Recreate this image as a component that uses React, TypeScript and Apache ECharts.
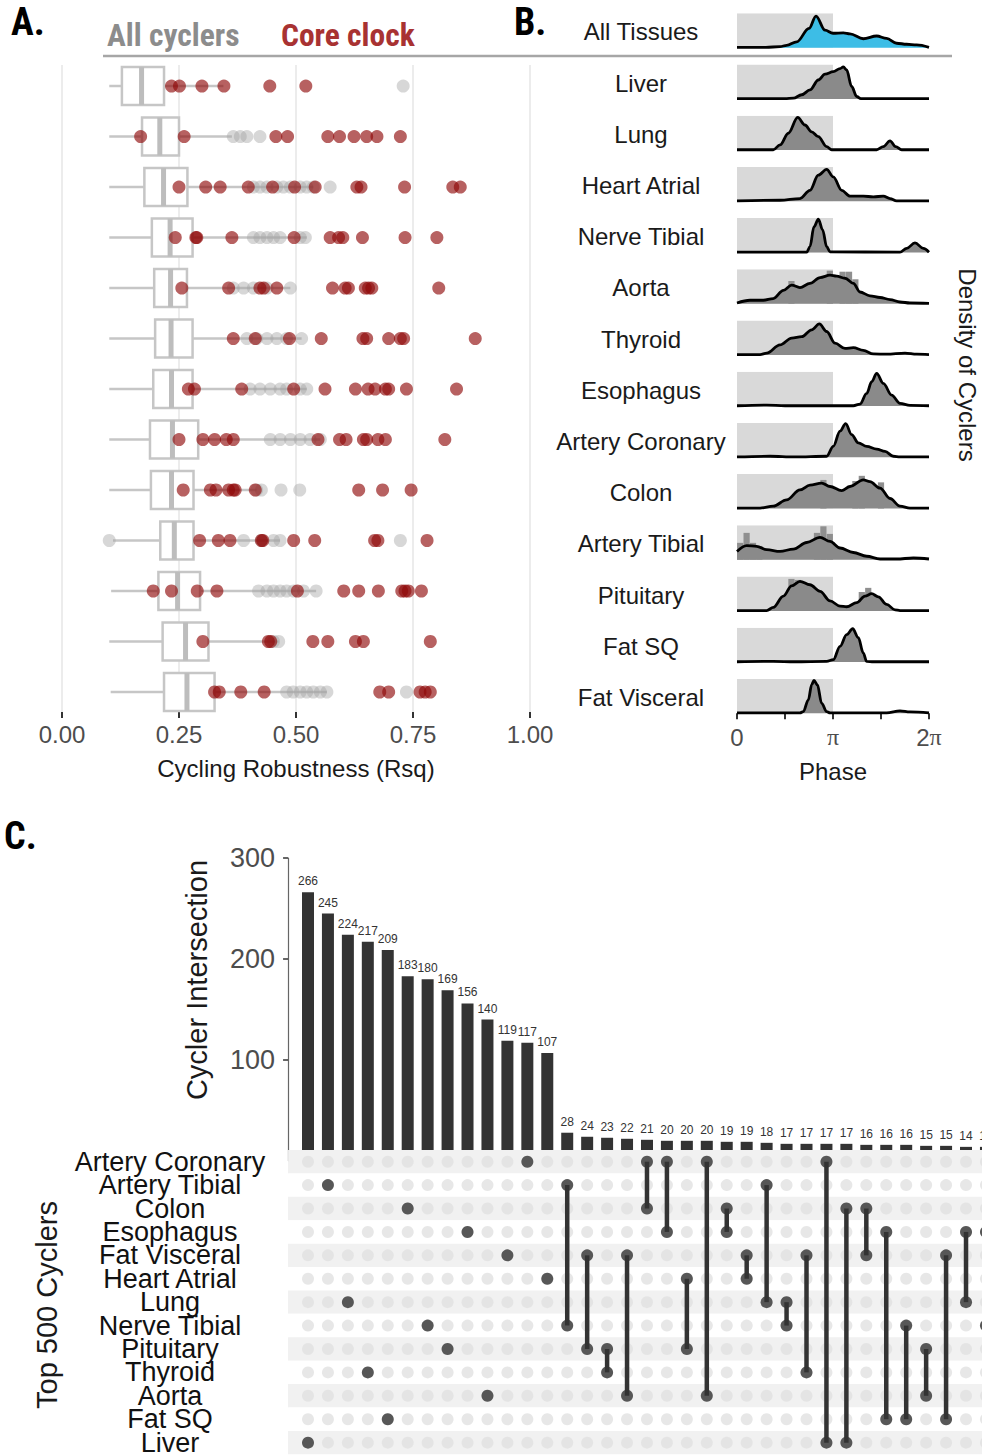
import React, { useEffect, useRef } from 'react';
import * as echarts from 'echarts';

// ---------------- Panel A data ----------------
const rsqTicks = [0, 0.25, 0.5, 0.75, 1];
// [lower whisker, Q1, median, Q3, upper whisker] per row (top to bottom)
const boxStats = [
  [0.101, 0.128, 0.170, 0.218, 0.345],
  [0.101, 0.171, 0.209, 0.250, 0.363],
  [0.101, 0.176, 0.217, 0.268, 0.537],
  [0.101, 0.192, 0.231, 0.279, 0.523],
  [0.101, 0.197, 0.232, 0.267, 0.488],
  [0.101, 0.199, 0.233, 0.279, 0.512],
  [0.101, 0.195, 0.234, 0.279, 0.523],
  [0.101, 0.188, 0.236, 0.291, 0.552],
  [0.101, 0.190, 0.234, 0.281, 0.416],
  [0.109, 0.210, 0.240, 0.281, 0.466],
  [0.105, 0.206, 0.247, 0.295, 0.543],
  [0.101, 0.215, 0.264, 0.313, 0.463],
  [0.104, 0.218, 0.267, 0.326, 0.566],
];
const greyPoints = [
  [0.729],
  [0.366, 0.381, 0.395, 0.423],
  [0.409, 0.423, 0.438, 0.459, 0.473, 0.488, 0.509, 0.523, 0.537, 0.573],
  [0.409, 0.423, 0.438, 0.452, 0.466, 0.509, 0.520],
  [0.366, 0.388, 0.409, 0.438, 0.488],
  [0.395, 0.416, 0.438, 0.459, 0.480, 0.512],
  [0.402, 0.423, 0.445, 0.466, 0.480, 0.509, 0.523],
  [0.445, 0.466, 0.488, 0.509, 0.530, 0.552],
  [0.416, 0.426, 0.468, 0.508],
  [0.101, 0.388, 0.426, 0.452, 0.466, 0.723],
  [0.420, 0.438, 0.452, 0.466, 0.480, 0.495, 0.516, 0.543],
  [0.452, 0.463],
  [0.480, 0.494, 0.509, 0.523, 0.537, 0.552, 0.566, 0.736],
];
const redPoints = [
  [0.234, 0.251, 0.299, 0.346, 0.444, 0.521],
  [0.168, 0.261, 0.457, 0.482, 0.568, 0.593, 0.624, 0.651, 0.673, 0.723],
  [0.250, 0.307, 0.338, 0.398, 0.450, 0.497, 0.541, 0.630, 0.639, 0.732, 0.835, 0.851],
  [0.242, 0.286, 0.288, 0.363, 0.496, 0.573, 0.591, 0.600, 0.642, 0.733, 0.801],
  [0.256, 0.356, 0.423, 0.431, 0.459, 0.578, 0.605, 0.612, 0.648, 0.655, 0.662, 0.805],
  [0.366, 0.413, 0.486, 0.554, 0.643, 0.651, 0.698, 0.723, 0.730, 0.883],
  [0.270, 0.283, 0.384, 0.495, 0.562, 0.627, 0.654, 0.669, 0.691, 0.698, 0.736, 0.843],
  [0.250, 0.301, 0.326, 0.351, 0.366, 0.547, 0.593, 0.607, 0.644, 0.651, 0.675, 0.691, 0.818],
  [0.259, 0.317, 0.329, 0.356, 0.366, 0.370, 0.413, 0.634, 0.685, 0.746],
  [0.294, 0.334, 0.359, 0.426, 0.429, 0.495, 0.540, 0.668, 0.675, 0.780],
  [0.195, 0.234, 0.289, 0.331, 0.503, 0.602, 0.634, 0.676, 0.726, 0.733, 0.740, 0.768],
  [0.301, 0.441, 0.446, 0.536, 0.568, 0.627, 0.644, 0.787],
  [0.326, 0.336, 0.382, 0.432, 0.679, 0.698, 0.765, 0.776, 0.787],
];

// ---------------- Panel B data (phase in units of pi, relative density) ----------------
const tissuesB = ['All Tissues', 'Liver', 'Lung', 'Heart Atrial', 'Nerve Tibial', 'Aorta', 'Thyroid',
  'Esophagus', 'Artery Coronary', 'Colon', 'Artery Tibial', 'Pituitary', 'Fat SQ', 'Fat Visceral'];
const densAll = [[0, 0.01], [0.3, 0.01], [0.448, 0.03], [0.517, 0.07], [0.622, 0.17], [0.75, 0.56], [0.823, 0.92], [0.917, 0.51], [1.0, 0.42], [1.108, 0.43], [1.177, 0.4], [1.316, 0.26], [1.455, 0.34], [1.559, 0.27], [1.663, 0.13], [1.767, 0.1], [1.872, 0.08], [2, 0.01]];
const densLiver = [[0, 0.01], [0.5, 0.01], [0.587, 0.02], [0.674, 0.12], [0.76, 0.26], [0.847, 0.55], [0.917, 0.72], [1.003, 0.79], [1.073, 0.88], [1.108, 0.93], [1.142, 0.84], [1.194, 0.36], [1.247, 0.07], [1.29, 0.01], [2, 0.01]];
const densLung = [[0, 0.01], [0.378, 0.01], [0.448, 0.15], [0.535, 0.49], [0.632, 0.95], [0.708, 0.73], [0.778, 0.53], [0.847, 0.39], [0.934, 0.1], [0.986, 0.01], [1.455, 0.01], [1.524, 0.1], [1.594, 0.27], [1.653, 0.1], [1.715, 0.01], [2, 0.01]];
const densHeartAtrial = [[0, 0.01], [0.448, 0.03], [0.656, 0.08], [0.76, 0.32], [0.847, 0.76], [0.934, 0.93], [1.003, 0.71], [1.09, 0.32], [1.177, 0.15], [1.316, 0.15], [1.42, 0.13], [1.524, 0.15], [1.594, 0.08], [1.663, 0.01], [2, 0.01]];
const densNerveTibial = [[0, 0.01], [0.726, 0.01], [0.76, 0.17], [0.802, 0.75], [0.847, 0.97], [0.892, 0.66], [0.934, 0.17], [0.969, 0.02], [1.698, 0.01], [1.767, 0.12], [1.854, 0.28], [1.941, 0.12], [2, 0.01]];
const densAorta = [[0, 0.02], [0.135, 0.1], [0.274, 0.1], [0.378, 0.15], [0.483, 0.39], [0.569, 0.54], [0.656, 0.47], [0.76, 0.59], [0.865, 0.76], [0.969, 0.83], [1.038, 0.8], [1.125, 0.74], [1.212, 0.59], [1.281, 0.34], [1.385, 0.23], [1.49, 0.18], [1.594, 0.12], [1.698, 0.05], [1.802, 0.02], [2, 0.01]];
const densThyroid = [[0, 0.01], [0.24, 0.01], [0.309, 0.05], [0.448, 0.29], [0.569, 0.49], [0.674, 0.53], [0.778, 0.73], [0.858, 0.9], [0.934, 0.68], [1.021, 0.34], [1.125, 0.19], [1.212, 0.21], [1.316, 0.13], [1.42, 0.03], [1.559, 0.02], [1.75, 0.05], [1.872, 0.02], [2, 0.01]];
const densEsophagus = [[0, 0.01], [0.309, 0.03], [0.5, 0.01], [1.212, 0.01], [1.281, 0.06], [1.351, 0.37], [1.403, 0.71], [1.455, 0.95], [1.524, 0.66], [1.611, 0.32], [1.698, 0.08], [1.802, 0.02], [2, 0.01]];
const densArteryCoronary = [[0, 0.01], [0.344, 0.03], [0.6, 0.01], [0.934, 0.03], [1.003, 0.32], [1.073, 0.76], [1.132, 0.98], [1.194, 0.66], [1.264, 0.42], [1.351, 0.32], [1.455, 0.24], [1.542, 0.17], [1.628, 0.03], [1.698, 0.01], [2, 0.01]];
const densColon = [[0, 0.01], [0.24, 0.01], [0.378, 0.07], [0.517, 0.25], [0.656, 0.54], [0.76, 0.68], [0.882, 0.74], [0.969, 0.64], [1.09, 0.52], [1.177, 0.64], [1.316, 0.83], [1.385, 0.78], [1.49, 0.59], [1.594, 0.29], [1.698, 0.07], [1.802, 0.01], [2, 0.01]];
const densArteryTibial = [[0, 0.24], [0.101, 0.41], [0.205, 0.39], [0.309, 0.29], [0.448, 0.24], [0.587, 0.31], [0.726, 0.5], [0.865, 0.65], [0.969, 0.53], [1.073, 0.34], [1.212, 0.21], [1.351, 0.1], [1.49, 0.02], [1.663, 0.02], [1.837, 0.05], [2, 0.02]];
const densPituitary = [[0, 0.01], [0.309, 0.01], [0.378, 0.1], [0.483, 0.43], [0.569, 0.73], [0.656, 0.86], [0.76, 0.76], [0.865, 0.57], [0.969, 0.29], [1.073, 0.14], [1.142, 0.12], [1.247, 0.24], [1.333, 0.43], [1.403, 0.5], [1.472, 0.41], [1.559, 0.19], [1.646, 0.03], [1.698, 0.01], [2, 0.01]];
const densFatSQ = [[0, 0.01], [0.378, 0.02], [0.6, 0.01], [0.934, 0.02], [1.003, 0.07], [1.073, 0.46], [1.142, 0.8], [1.205, 0.97], [1.264, 0.71], [1.316, 0.26], [1.351, 0.02], [1.42, 0.01], [2, 0.01]];
const densFatVisceral = [[0, 0.01], [0.656, 0.01], [0.691, 0.05], [0.743, 0.39], [0.778, 0.83], [0.802, 0.96], [0.837, 0.83], [0.882, 0.29], [0.934, 0.05], [0.969, 0.01], [1.559, 0.01], [1.698, 0.07], [1.802, 0.04], [2, 0.01]];
const densities = [densAll, densLiver, densLung, densHeartAtrial, densNerveTibial, densAorta, densThyroid,
  densEsophagus, densArteryCoronary, densColon, densArteryTibial, densPituitary, densFatSQ, densFatVisceral];
// histogram bins (bin centre in units of pi, relative height) that rise above the density curve
const histAorta = [[0.567, 0.66], [0.967, 0.96], [1.1, 0.93], [1.167, 0.93], [1.233, 0.71]];
const histColon = [[0.9, 0.83], [1.233, 0.8], [1.3, 0.95], [1.5, 0.76]];
const histArteryTibial = [[0.033, 0.49], [0.1, 0.78], [0.167, 0.49], [0.233, 0.4], [0.833, 0.78], [0.9, 0.97], [0.967, 0.75]];
const histPituitary = [[0.567, 0.93], [0.633, 0.9], [1.3, 0.55], [1.367, 0.67]];
const histograms: Record<number, number[][]> = { 5: histAorta, 9: histColon, 10: histArteryTibial, 11: histPituitary };
const phaseTicks = [0, 0.5, 1, 1.5, 2];

// ---------------- Panel C data ----------------
const setNames = ['Artery Coronary', 'Artery Tibial', 'Colon', 'Esophagus', 'Fat Visceral', 'Heart Atrial',
  'Lung', 'Nerve Tibial', 'Pituitary', 'Thyroid', 'Aorta', 'Fat SQ', 'Liver'];
const intersectionSizes = [266, 245, 224, 217, 209, 183, 180, 169, 156, 140, 119, 117, 107,
  28, 24, 23, 22, 21, 20, 20, 20, 19, 19, 18, 17, 17, 17, 17, 16, 16, 16, 15, 15, 14, 14];
const intersectionSets = [
  ['Liver'], ['Artery Tibial'], ['Lung'], ['Thyroid'], ['Fat SQ'], ['Colon'], ['Nerve Tibial'],
  ['Pituitary'], ['Esophagus'], ['Aorta'], ['Fat Visceral'], ['Artery Coronary'], ['Heart Atrial'],
  ['Artery Tibial', 'Nerve Tibial'], ['Fat Visceral', 'Pituitary'], ['Pituitary', 'Thyroid'],
  ['Fat Visceral', 'Aorta'], ['Artery Coronary', 'Colon'], ['Artery Coronary', 'Esophagus'],
  ['Heart Atrial', 'Pituitary'], ['Artery Coronary', 'Aorta'], ['Colon', 'Esophagus'],
  ['Fat Visceral', 'Heart Atrial'], ['Artery Tibial', 'Lung'], ['Lung', 'Nerve Tibial'],
  ['Fat Visceral', 'Thyroid'], ['Artery Coronary', 'Liver'], ['Colon', 'Liver'], ['Colon', 'Fat Visceral'],
  ['Esophagus', 'Fat SQ'], ['Nerve Tibial', 'Fat SQ'], ['Pituitary', 'Aorta'], ['Fat Visceral', 'Fat SQ'],
  ['Esophagus', 'Lung'], ['Esophagus', 'Nerve Tibial'],
];
const countTicks = [0, 100, 200, 300];
const countTickLabels = [100, 200, 300];

const SANS = "'Liberation Sans', Arial, Helvetica, sans-serif";
const HEAD = "'Liberation Sans Narrow', 'Roboto Condensed', 'DejaVu Sans Condensed', 'Open Sans', sans-serif";

function buildOption() {
  const grid: any[] = [];
  const xAxis: any[] = [];
  const yAxis: any[] = [];
  const series: any[] = [];
  const graphic: any[] = [];

  // ---------- Panel A ----------
  grid.push({ left: 62, top: 65, width: 468, height: 647 });
  xAxis.push({
    gridIndex: 0, type: 'value', min: rsqTicks[0], max: rsqTicks[rsqTicks.length - 1], interval: 0.25,
    axisLine: { show: false },
    axisTick: { show: true, length: 6, lineStyle: { color: '#333', width: 2 } },
    axisLabel: { fontSize: 24, color: '#4d4d4d', fontFamily: SANS, margin: 10, formatter: (v: number) => v.toFixed(2) },
    splitLine: { show: true, lineStyle: { color: '#e6e6e6', width: 1.5 } },
    name: 'Cycling Robustness (Rsq)', nameLocation: 'middle', nameGap: 44,
    nameTextStyle: { fontSize: 24, color: '#1a1a1a', fontFamily: SANS },
  });
  yAxis.push({ gridIndex: 0, type: 'value', min: 0.584, max: 13.396, inverse: true, show: false });

  series.push({
    type: 'custom', xAxisIndex: 0, yAxisIndex: 0, z: 2, clip: false,
    data: boxStats.map((s, i) => [i + 1, ...s]),
    encode: { x: [1, 2, 3, 4, 5], y: 0 },
    renderItem: (params: any, api: any) => {
      const row = api.value(0);
      const lo = api.coord([api.value(1), row]);
      const q1 = api.coord([api.value(2), row]);
      const md = api.coord([api.value(3), row]);
      const q3 = api.coord([api.value(4), row]);
      const hi = api.coord([api.value(5), row]);
      const h = 38;
      const stroke = '#c6c6c6';
      return {
        type: 'group',
        children: [
          { type: 'line', shape: { x1: lo[0], y1: lo[1], x2: q1[0], y2: q1[1] }, style: { stroke, lineWidth: 2.5 } },
          { type: 'line', shape: { x1: q3[0], y1: q3[1], x2: hi[0], y2: hi[1] }, style: { stroke, lineWidth: 2.5 } },
          { type: 'rect', shape: { x: q1[0], y: q1[1] - h / 2, width: q3[0] - q1[0], height: h }, style: { fill: '#fff', stroke, lineWidth: 2.5 } },
          { type: 'line', shape: { x1: md[0], y1: md[1] - h / 2, x2: md[0], y2: md[1] + h / 2 }, style: { stroke: '#bdbdbd', lineWidth: 5 } },
        ],
      };
    },
  });
  series.push({
    type: 'scatter', xAxisIndex: 0, yAxisIndex: 0, z: 3, symbolSize: 13,
    data: greyPoints.flatMap((row, i) => row.map((v) => [v, i + 1])),
    itemStyle: { color: 'rgba(165,165,165,0.55)' },
  });
  series.push({
    type: 'scatter', xAxisIndex: 0, yAxisIndex: 0, z: 4, symbolSize: 13,
    data: redPoints.flatMap((row, i) => row.map((v) => [v, i + 1])),
    itemStyle: { color: 'rgba(143,8,8,0.8)' },
  });

  // ---------- Panel B ----------
  densities.forEach((d, i) => {
    const gi = 1 + i;
    const top = 13.3 + 51.2 * i;
    const last = i === densities.length - 1;
    grid.push({ left: 737, top, width: 192, height: 34.4 });
    xAxis.push({
      gridIndex: gi, type: 'value', min: phaseTicks[0], max: phaseTicks[phaseTicks.length - 1], interval: 0.5,
      show: last,
      axisLine: { show: false },
      axisTick: { show: true, length: 6, lineStyle: { color: '#333', width: 2 } },
      splitLine: { show: false },
      axisLabel: {
        fontSize: 24, color: '#4d4d4d', fontFamily: SANS, margin: 12,
        formatter: (v: number) => (v === 0 ? '0' : v === 1 ? '{p|π}' : v === 2 ? '2{p|π}' : ''),
        rich: { p: { fontSize: 24, color: '#4d4d4d', fontFamily: "'Liberation Serif', serif" } },
      },
      name: last ? 'Phase' : '', nameLocation: 'middle', nameGap: 46,
      nameTextStyle: { fontSize: 24, color: '#1a1a1a', fontFamily: SANS },
    });
    yAxis.push({ gridIndex: gi, type: 'value', min: 0, max: 1, show: false });
    series.push({
      type: 'line', xAxisIndex: gi, yAxisIndex: gi, z: 1, silent: true,
      data: [[0, 1], [1, 1]], showSymbol: false, symbol: 'none',
      lineStyle: { width: 0, opacity: 0 }, areaStyle: { color: '#d9d9d9', opacity: 1 },
    });
    if (histograms[i]) {
      series.push({
        type: 'bar', xAxisIndex: gi, yAxisIndex: gi, z: 2, barWidth: 6.2, silent: true,
        data: histograms[i], itemStyle: { color: '#8f8f8f' },
      });
    }
    series.push({
      type: 'line', xAxisIndex: gi, yAxisIndex: gi, z: 3, clip: false,
      data: d, symbol: 'none', smooth: 0.35, smoothMonotone: 'x',
      lineStyle: { color: '#000', width: 2.8 },
      areaStyle: { color: i === 0 ? '#3dbde6' : '#8a8a8a', opacity: 1 },
    });
    graphic.push({
      type: 'text', x: 641, y: top + 18.5,
      style: { text: tissuesB[i], fontSize: 24, fontFamily: SANS, fill: '#1a1a1a', align: 'center', verticalAlign: 'middle' },
    });
  });

  // ---------- Panel C ----------
  const colW = 19.94;
  const cLeft = 308 - colW; // x of value -1
  const cWidth = colW * 36;
  const barGi = 1 + densities.length;
  const matGi = barGi + 1;
  grid.push({ left: cLeft, top: 858, width: cWidth, height: 303 });
  grid.push({ left: cLeft, top: 1150, width: cWidth, height: 23.67 * setNames.length });
  xAxis.push({ gridIndex: barGi, type: 'value', min: -1, max: 35, show: false });
  yAxis.push({
    gridIndex: barGi, type: 'value', min: countTicks[0], max: countTicks[countTicks.length - 1], interval: 100,
    axisLine: { show: true, onZero: false, lineStyle: { color: '#666', width: 1.2 } },
    axisTick: { show: true, length: 5, customValues: countTickLabels, lineStyle: { color: '#333', width: 1.5 } },
    axisLabel: { fontSize: 27, color: '#4d4d4d', fontFamily: SANS, margin: 13, customValues: countTickLabels, formatter: (v: number) => (v === 0 ? '' : String(v)) },
    splitLine: { show: false },
  });
  xAxis.push({ gridIndex: matGi, type: 'value', min: -1, max: 35, show: false });
  yAxis.push({
    gridIndex: matGi, type: 'category', data: setNames, inverse: true, z: 2,
    axisLine: { show: false }, axisTick: { show: false },
    axisLabel: { interval: 0, fontSize: 27, color: '#111', fontFamily: SANS, align: 'center', margin: 118 },
    splitLine: { show: false },
    splitArea: { show: true, interval: 0, areaStyle: { color: ['#f1f1f1', '#ffffff'] } },
  });

  series.push({
    type: 'bar', xAxisIndex: barGi, yAxisIndex: barGi, z: 1, barWidth: 12,
    data: intersectionSizes.map((v, i) => [i, v]),
    itemStyle: { color: '#333333' },
    label: { show: true, position: 'top', distance: 5, fontSize: 12, color: '#333', fontFamily: SANS, formatter: (p: any) => String(p.value[1]) },
  });
  const allDots: number[][] = [];
  intersectionSizes.forEach((_, c) => setNames.forEach((_, r) => allDots.push([c, r])));
  series.push({
    type: 'scatter', xAxisIndex: matGi, yAxisIndex: matGi, z: 3, symbolSize: 12,
    data: allDots, itemStyle: { color: '#e1e1e1' }, silent: true,
  });
  series.push({
    type: 'custom', xAxisIndex: matGi, yAxisIndex: matGi, z: 4, clip: false,
    data: intersectionSets.map((s, c) => {
      const idx = s.map((n) => setNames.indexOf(n));
      return [c, Math.min(...idx), Math.max(...idx)];
    }),
    encode: { x: 0, y: [1, 2] },
    renderItem: (params: any, api: any) => {
      const a = api.coord([api.value(0), api.value(1)]);
      const b = api.coord([api.value(0), api.value(2)]);
      return { type: 'line', shape: { x1: a[0], y1: a[1], x2: b[0], y2: b[1] }, style: { stroke: '#333', lineWidth: 4.5 } };
    },
  });
  series.push({
    type: 'scatter', xAxisIndex: matGi, yAxisIndex: matGi, z: 5, symbolSize: 12,
    data: intersectionSets.flatMap((s, c) => s.map((n) => [c, setNames.indexOf(n)])),
    itemStyle: { color: '#333333' },
  });

  // ---------- Titles & annotations ----------
  graphic.push(
    { type: 'text', x: 11, y: 22, style: { text: 'A.', fontSize: 38, fontWeight: 'bold', fontFamily: HEAD, fill: '#000', verticalAlign: 'middle' } },
    { type: 'text', x: 514, y: 22, style: { text: 'B.', fontSize: 38, fontWeight: 'bold', fontFamily: HEAD, fill: '#000', verticalAlign: 'middle' } },
    { type: 'text', x: 4, y: 836, style: { text: 'C.', fontSize: 38, fontWeight: 'bold', fontFamily: HEAD, fill: '#000', verticalAlign: 'middle' } },
    { type: 'text', x: 107, y: 35, style: { text: 'All cyclers', fontSize: 31.5, fontWeight: 'bold', fontFamily: HEAD, fill: '#8c8c8c', verticalAlign: 'middle' } },
    { type: 'text', x: 281, y: 35, style: { text: 'Core clock', fontSize: 31.5, fontWeight: 'bold', fontFamily: HEAD, fill: '#a83232', verticalAlign: 'middle' } },
    { type: 'line', shape: { x1: 103, y1: 56, x2: 952, y2: 56 }, style: { stroke: '#a6a6a6', lineWidth: 2.5 } },
    { type: 'text', x: 967, y: 365, rotation: -Math.PI / 2, style: { text: 'Density of Cyclers', fontSize: 24, fontFamily: SANS, fill: '#1a1a1a', align: 'center', verticalAlign: 'middle' } },
    { type: 'text', x: 197, y: 980, rotation: Math.PI / 2, style: { text: 'Cycler Intersection', fontSize: 29, fontFamily: SANS, fill: '#1a1a1a', align: 'center', verticalAlign: 'middle' } },
    { type: 'text', x: 47, y: 1305, rotation: Math.PI / 2, style: { text: 'Top 500 Cyclers', fontSize: 29, fontFamily: SANS, fill: '#1a1a1a', align: 'center', verticalAlign: 'middle' } },
  );

  return { animation: false, backgroundColor: '#ffffff', grid, xAxis, yAxis, series, graphic };
}

export default function App() {
  const ref = useRef<HTMLDivElement>(null);
  useEffect(() => {
    document.body.style.margin = '0';
    document.body.style.overflow = 'hidden';
    document.documentElement.style.overflow = 'hidden';
    const chart = echarts.init(ref.current as HTMLDivElement, null, { renderer: 'svg' });
    chart.setOption(buildOption() as any);
    return () => chart.dispose();
  }, []);
  // The chart is slightly wider than the window so the last intersection column is cut at the edge, as in the reference.
  return <div ref={ref} style={{ width: 1012, height: 1456 }} />;
}
